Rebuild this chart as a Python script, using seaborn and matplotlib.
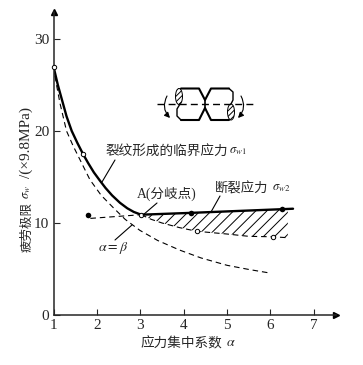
import numpy as np
import pandas as pd
import seaborn as sns
import matplotlib.pyplot as plt
from matplotlib.patches import Ellipse

sns.set_style('ticks')
plt.rcParams['font.family'] = ['Liberation Serif', 'Noto Sans CJK SC', 'DejaVu Sans']
plt.rcParams['mathtext.fontset'] = 'stix'
plt.rcParams['hatch.linewidth'] = 0.7

# critical stress for crack initiation (solid)
crit_x = [1, 1.1, 1.2, 1.3, 1.42, 1.55, 1.68, 1.8, 1.93, 2.07, 2.2, 2.35, 2.53, 2.7, 2.85, 3.02]
crit_y = [27, 25, 23.3, 21.6, 20, 18.7, 17.5, 16.5, 15.5, 14.6, 13.8, 13, 12.2, 11.6, 11.2, 10.9]
# fracture stress (solid, right of A)
frac_x = [3.02, 4.17, 6.27, 6.52]
frac_y = [10.9, 11.1, 11.5, 11.55]
# alpha = beta (dashed)
ab_x = [1, 1.07, 1.15, 1.3, 1.45, 1.65, 1.84, 2.1, 2.37, 2.65, 2.99, 3.4, 3.91, 4.4, 5, 5.5, 6]
ab_y = [27, 25, 23, 20, 18.4, 16.5, 14.7, 13, 11.7, 10.4, 9.2, 8.1, 7.05, 6.2, 5.4, 4.95, 4.55]
# lower edge of hatched zone (dashed)
low_x = [3.02, 3.25, 3.5, 3.9, 4.3, 5, 5.5, 6.05, 6.4]
low_y = [10.9, 10.4, 10.0, 9.5, 9.1, 8.8, 8.55, 8.5, 8.4]
# left dashed run to A
left_x = [1.85, 3.02]
left_y = [10.5, 10.9]

open_x = [1, 1.68, 3.02, 4.3, 6.05]
open_y = [27, 17.5, 10.9, 9.1, 8.5]
solid_x = [1.8, 4.17, 6.27]
solid_y = [10.9, 11.1, 11.5]

x_ticks = [1, 2, 3, 4, 5, 6, 7]
y_ticks = [0, 10, 20, 30]

W, H = 363, 365
fig = plt.figure(figsize=(W / 100, H / 100), dpi=100)
ax = fig.add_axes([53.5 / W, (H - 315) / H, 282.5 / W, 303 / H])

sns.lineplot(x=crit_x, y=crit_y, color='k', lw=1.7, estimator=None, sort=False, ax=ax)
sns.lineplot(x=frac_x, y=frac_y, color='k', lw=1.7, estimator=None, sort=False, ax=ax)
for xs, ys in [(ab_x, ab_y), (low_x, low_y), (left_x, left_y)]:
    sns.lineplot(x=xs, y=ys, color='k', lw=0.8, estimator=None, sort=False, ax=ax,
                 linestyle=(0, (5, 3.5)))

# hatched band between fracture stress and lower edge
xx = np.array(low_x)
ax.fill_between(xx, np.interp(xx, low_x, low_y), np.interp(xx, frac_x, frac_y),
                facecolor='none', edgecolor='k', hatch='///', lw=0, zorder=1)

pts_open = pd.DataFrame({'x': open_x, 'y': open_y})
pts_solid = pd.DataFrame({'x': solid_x, 'y': solid_y})
sns.scatterplot(data=pts_open, x='x', y='y', s=10, facecolor='w', edgecolor='k',
                linewidth=0.7, zorder=5, clip_on=False, ax=ax)
sns.scatterplot(data=pts_solid, x='x', y='y', s=16, color='k', linewidth=0,
                zorder=5, ax=ax)

ax.set_xlim(1, 7.51)
ax.set_ylim(0, 32.93)
ax.set_xticks(x_ticks)
ax.set_yticks(y_ticks)
ax.set_xticklabels(x_ticks, fontsize=11)
ax.set_yticklabels(y_ticks, fontsize=11)
ax.tick_params(axis='both', direction='in', length=4.5, width=0.8, pad=3)
ax.set_xlabel('')
ax.set_ylabel('')
sns.despine(ax=ax)
for s in ['left', 'bottom']:
    ax.spines[s].set_linewidth(1.1)
ax.plot(1, 0, '>k', ms=4, transform=ax.transAxes, clip_on=False)
ax.plot(0, 1, '^k', ms=4, transform=ax.transAxes, clip_on=False)

# overlay in pixel coordinates for labels and the specimen sketch
ov = fig.add_axes([0, 0, 1, 1], facecolor='none')
ov.set_xlim(0, W)
ov.set_ylim(H, 0)
ov.axis('off')

# y label in three pieces, mathtext cannot draw the CJK glyphs
ov.text(27, 252, '疲劳极限', rotation=90, ha='center', va='bottom', fontsize=9)
ov.text(27, 199, r'$\sigma_{w}$', rotation=90, ha='center', va='bottom', fontsize=9)
ov.text(26, 178, '/(×9.8MPa)', rotation=90, ha='center', va='bottom', fontsize=11)

ov.text(140, 344, '应力集中系数', ha='left', va='center', fontsize=9.8)
ov.text(226, 342, r'$\alpha$', ha='left', va='center', fontsize=10)
ov.text(105, 152, '裂纹形成的临界应力', ha='left', va='center', fontsize=9.8)
ov.text(229, 151, r'$\sigma_{w1}$', ha='left', va='center', fontsize=9)
ov.text(137, 194, 'A(分岐点)', ha='left', va='center', fontsize=9.8)
ov.text(215, 189, '断裂应力', ha='left', va='center', fontsize=9.6)
ov.text(272, 188, r'$\sigma_{w2}$', ha='left', va='center', fontsize=9)
ov.text(113, 248, r'$\alpha=\beta$', ha='center', va='center', fontsize=10)

leaders = [((115, 160), (102, 182)), ((157, 203), (143, 215)),
           ((220, 196), (211, 212)), ((132, 225), (115, 240))]
for a, b in leaders:
    ov.plot([a[0], b[0]], [a[1], b[1]], color='k', lw=0.8)

# specimen sketch
top_x = [181, 199, 205, 211, 229]
top_y = [88.5, 88.5, 100, 88.5, 88.5]
bot_y = [120, 120, 108, 120, 120]
ov.plot(top_x, top_y, color='k', lw=1.5)
ov.plot(top_x, bot_y, color='k', lw=1.5)
ov.plot([205, 205], [100, 108], color='k', lw=1.2)
ov.plot([157, 255], [104, 104], color='k', lw=1.0, linestyle=(0, (5, 3)))
ov.add_patch(Ellipse((179, 96.5), 7, 16, facecolor='w', edgecolor='k', lw=0.7, hatch='//////'))
ov.add_patch(Ellipse((231, 112), 7, 16, facecolor='w', edgecolor='k', lw=0.7, hatch='//////'))
ov.plot([180, 177, 177, 181], [104, 109, 116, 120], color='k', lw=1.0)
ov.plot([229, 233, 233, 231], [88.5, 92, 100, 104], color='k', lw=1.0)
ov.annotate('', xy=(170, 118), xytext=(167, 96),
            arrowprops=dict(arrowstyle='-|>', color='k', lw=0.8, connectionstyle='arc3,rad=0.35',
                            mutation_scale=8, shrinkA=0, shrinkB=0))
ov.annotate('', xy=(238, 118), xytext=(241, 96),
            arrowprops=dict(arrowstyle='-|>', color='k', lw=0.8, connectionstyle='arc3,rad=-0.35',
                            mutation_scale=8, shrinkA=0, shrinkB=0))

fig.savefig('out.png', dpi=100)
